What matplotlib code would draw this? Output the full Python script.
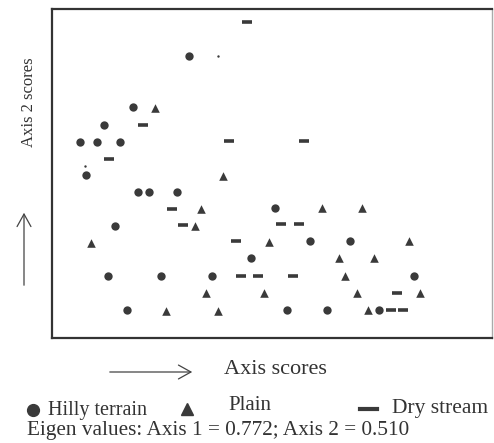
import matplotlib
matplotlib.use("Agg")
import matplotlib.pyplot as plt
from matplotlib.lines import Line2D
from matplotlib.patches import FancyArrowPatch

plt.rcParams["font.family"] = ["Liberation Serif", "DejaVu Serif"]

ink = "#3a3a3a"
txt = "#333333"

# ordination scores (arbitrary units, origin bottom-left of the frame)
hilly_x = [137, 81, 52, 28, 45, 68, 34, 86, 97, 125, 63, 223, 258, 298, 199,
           56, 109, 160, 362, 75, 235, 275, 327]
hilly_y = [282, 231, 213, 196, 196, 196, 163, 146, 146, 146, 112, 130, 97, 97, 80,
           62, 62, 62, 62, 28, 28, 28, 28]

plain_x = [103, 171, 149, 143, 39, 217, 270, 310, 357, 287, 322, 293, 305, 368,
           154, 212, 114, 166, 316]
plain_y = [230, 162, 129, 112, 95, 96, 130, 130, 97, 80, 80, 62, 45, 45,
           45, 45, 27, 27, 28]

dry_x = [195, 91, 57, 177, 252, 120, 131, 184, 189, 206, 229, 247, 241, 345, 339, 351]
dry_y = [316, 213, 179, 197, 197, 129, 113, 97, 62, 62, 114, 114, 62, 45, 28, 28]

# two faint specks in the scan
speck_x = [166, 33]
speck_y = [282, 172]

fig = plt.figure(figsize=(4.94, 4.43), dpi=100)
ax = fig.add_axes([52 / 494, 1 - 338 / 443, 440 / 494, 329 / 443])

ax.scatter(hilly_x, hilly_y, marker="o", s=36, color=ink, linewidths=0)
ax.scatter(plain_x, plain_y, marker="^", s=38, color=ink, linewidths=0)
ax.scatter(dry_x, dry_y, marker="_", s=48, color=ink, linewidths=2.6)
ax.scatter(speck_x, speck_y, marker="o", s=3, color=ink, linewidths=0)

ax.set_xlim(0, 440)
ax.set_ylim(0, 329)
ax.set_xticks([])
ax.set_yticks([])
for side in ["left", "bottom", "top"]:
    ax.spines[side].set_color(txt)
    ax.spines[side].set_linewidth(1.6)
ax.spines["right"].set_color("#aaaaaa")
ax.spines["right"].set_linewidth(1.0)

# axis captions with open arrows
fig.text(29 / 494, 1 - 102 / 443, "Axis 2 scores", rotation=90, ha="center",
         va="center", fontsize=12, color=txt)
fig.add_artist(FancyArrowPatch(
    (24 / 494, 1 - 288 / 443), (24 / 494, 1 - 210 / 443), transform=fig.transFigure,
    arrowstyle="->,head_length=9,head_width=5", color="#444444", lw=0.9))
fig.add_artist(FancyArrowPatch(
    (107 / 494, 1 - 372 / 443), (195 / 494, 1 - 372 / 443), transform=fig.transFigure,
    arrowstyle="->,head_length=9,head_width=5", color="#444444", lw=0.9))
fig.text(224 / 494, 1 - 370 / 443, "Axis scores", ha="left", va="center",
         fontsize=16, color=txt)

# legend row
fig.add_artist(Line2D([33 / 494], [1 - 410 / 443], transform=fig.transFigure,
                      marker="o", markersize=8.5, color=ink, linestyle=""))
fig.text(48 / 494, 1 - 410 / 443, "Hilly terrain", ha="left", va="center",
         fontsize=14.5, color=txt)
fig.add_artist(Line2D([187 / 494], [1 - 409 / 443], transform=fig.transFigure,
                      marker="^", markersize=9, color=ink, linestyle=""))
fig.text(228 / 494, 1 - 405 / 443, "Plain", ha="left", va="center",
         fontsize=15, color=txt)
fig.add_artist(Line2D([360 / 494, 377 / 494], [1 - 409 / 443] * 2, transform=fig.transFigure,
                      color=ink, lw=3))
fig.text(392 / 494, 1 - 409 / 443, "Dry stream", ha="left", va="center",
         fontsize=15.5, color=txt)

fig.text(27 / 494, 1 - 430 / 443, "Eigen values: Axis 1 = 0.772; Axis 2 = 0.510",
         ha="left", va="center", fontsize=15.3, color=txt)

fig.savefig("out.png", dpi=100)
